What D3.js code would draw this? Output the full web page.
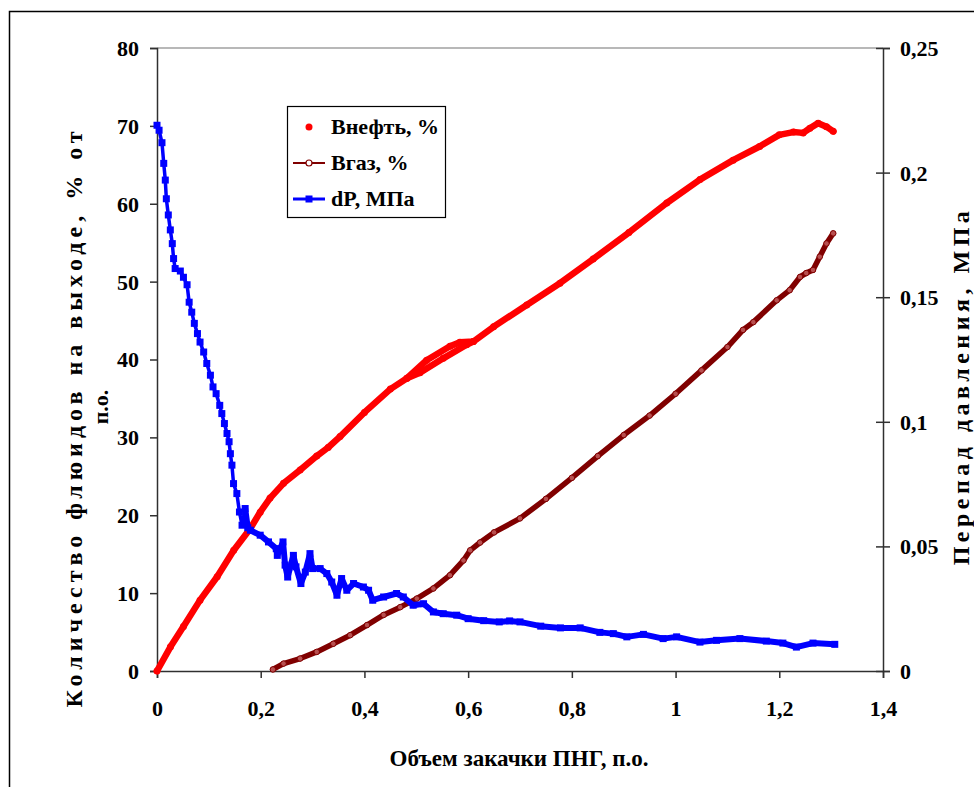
<!DOCTYPE html>
<html>
<head>
<meta charset="utf-8">
<script src="https://cdn.jsdelivr.net/npm/d3@7"></script>
<style>
  body { margin: 0; background: #fff; }
  text { font-family: "Liberation Serif", "Times New Roman", serif; font-weight: bold; fill: #000; }
</style>
</head>
<body>
<svg id="chart" width="974" height="787"></svg>
<script>
// Внефть, % (left axis)
const oilPoints = [
  [0, 0], [0.026, 3.1], [0.051, 5.7], [0.083, 9.1], [0.116, 12.1], [0.148, 15.5],
  [0.18, 18.3], [0.199, 20.4], [0.218, 22.2], [0.244, 24.1], [0.276, 25.8],
  [0.308, 27.6], [0.33, 28.7], [0.353, 30.1], [0.40, 33.2], [0.45, 36.2], [0.482, 37.6],
  [0.52, 39.9], [0.565, 41.7], [0.584, 42.2], [0.61, 42.3], [0.649, 44.2],
  [0.713, 47.0], [0.777, 49.8], [0.841, 52.9], [0.91, 56.3], [0.983, 60.1],
  [1.047, 63.1], [1.111, 65.6], [1.162, 67.35], [1.2, 68.85], [1.227, 69.2],
  [1.246, 69.1], [1.259, 69.7], [1.275, 70.35], [1.291, 69.9], [1.304, 69.3],
];
// the straight lower branch of the oil points between 0,48 and 0,6
const oilChord = [
  [0.482, 37.6], [0.507, 38.3], [0.552, 40.15], [0.597, 41.9], [0.61, 42.3],
];
// Вгаз, % (left axis)
const gasPoints = [
  [0.2235, 0.2], [0.244, 0.95], [0.276, 1.6], [0.308, 2.45], [0.34, 3.5],
  [0.3725, 4.6], [0.405, 5.9], [0.437, 7.2], [0.469, 8.2], [0.501, 9.3],
  [0.533, 10.6], [0.565, 12.3], [0.591, 14.2], [0.604, 15.5], [0.623, 16.5],
  [0.65, 17.8], [0.7, 19.6], [0.75, 22.1], [0.8, 24.8], [0.85, 27.6],
  [0.9, 30.3], [0.95, 32.8], [1.0, 35.6], [1.05, 38.6], [1.1, 41.6],
  [1.13, 43.8], [1.15, 44.8], [1.195, 47.6], [1.22, 48.9], [1.24, 50.6],
  [1.252, 51.1], [1.265, 51.5], [1.278, 53.2], [1.291, 54.9], [1.304, 56.2],
];
// dP, МПа (right axis)
const dpPoints = [
  [0, 0.219], [0.004, 0.217], [0.0096, 0.212], [0.013, 0.2037], [0.016, 0.197],
  [0.018, 0.1895], [0.0218, 0.183], [0.0257, 0.177], [0.0295, 0.1715],
  [0.032, 0.1655], [0.035, 0.1615], [0.045, 0.1605], [0.051, 0.158],
  [0.058, 0.155], [0.062, 0.148], [0.067, 0.144], [0.072, 0.1395],
  [0.078, 0.1354], [0.083, 0.132], [0.09, 0.128], [0.096, 0.1234],
  [0.103, 0.1187], [0.108, 0.114], [0.114, 0.1113], [0.121, 0.1066],
  [0.125, 0.1033], [0.13, 0.0993], [0.135, 0.0953], [0.139, 0.092],
  [0.1415, 0.0872], [0.1445, 0.0826], [0.1476, 0.0752], [0.154, 0.0712],
  [0.159, 0.0638], [0.164, 0.0585], [0.170, 0.0652], [0.175, 0.0575],
  [0.18, 0.0565], [0.199, 0.0545], [0.215, 0.0518], [0.23, 0.0491],
  [0.232, 0.0464], [0.243, 0.0518], [0.247, 0.0425], [0.252, 0.0377],
  [0.263, 0.0464], [0.268, 0.0418], [0.2775, 0.0351], [0.286, 0.0397],
  [0.295, 0.0471], [0.30, 0.0411], [0.3146, 0.0411], [0.3275, 0.0391],
  [0.337, 0.0357], [0.347, 0.0304], [0.356, 0.0371], [0.366, 0.0324],
  [0.379, 0.0351], [0.398, 0.0337], [0.408, 0.0324], [0.416, 0.0284],
  [0.437, 0.0297], [0.462, 0.0311], [0.475, 0.0297], [0.494, 0.0264],
  [0.514, 0.027], [0.533, 0.0237], [0.552, 0.023], [0.578, 0.0224],
  [0.60, 0.021], [0.63, 0.0202], [0.66, 0.0197], [0.68, 0.0201], [0.70, 0.0197],
  [0.74, 0.018], [0.778, 0.0173], [0.816, 0.0173], [0.854, 0.0155],
  [0.88, 0.0150], [0.906, 0.0137], [0.938, 0.0147], [0.976, 0.013],
  [1.002, 0.0137], [1.047, 0.0116], [1.079, 0.0123], [1.124, 0.013],
  [1.175, 0.012], [1.207, 0.0112], [1.233, 0.0096], [1.265, 0.0112], [1.307, 0.0107],
];

const xTicks = [0, 0.2, 0.4, 0.6, 0.8, 1, 1.2, 1.4];
const yTicks = [0, 10, 20, 30, 40, 50, 60, 70, 80];
const y2Ticks = [0, 0.05, 0.1, 0.15, 0.2, 0.25];
const legendItems = ['Внефть, %', 'Вгаз, %', 'dP, МПа'];

const comma = (v) => String(v).replace('.', ',');

const svg = d3.select('#chart');
const plot = { left: 157, right: 883, top: 48, bottom: 671 };

const x = d3.scaleLinear().domain([0, 1.4]).range([plot.left, plot.right]);
const y = d3.scaleLinear().domain([0, 80]).range([plot.bottom, plot.top]);
const y2 = d3.scaleLinear().domain([0, 0.25]).range([plot.bottom, plot.top]);

// outer chart border (right and bottom sides run off the picture)
svg.append('rect')
  .attr('x', 9.5).attr('y', 11.5)
  .attr('width', 980).attr('height', 800)
  .attr('fill', 'none').attr('stroke', '#000').attr('stroke-width', 1.5);

// top edge of the plot area
svg.append('line')
  .attr('x1', plot.left).attr('x2', plot.right)
  .attr('y1', plot.top).attr('y2', plot.top)
  .attr('stroke', '#a0a0a0').attr('stroke-width', 1.5);

const xAxis = svg.append('g')
  .attr('transform', `translate(0,${plot.bottom})`)
  .call(d3.axisBottom(x).tickValues(xTicks).tickFormat(comma).tickSize(7).tickPadding(22));
const yAxis = svg.append('g')
  .attr('transform', `translate(${plot.left},0)`)
  .call(d3.axisLeft(y).tickValues(yTicks).tickSize(7).tickPadding(11));
const y2Axis = svg.append('g')
  .attr('transform', `translate(${plot.right},0)`)
  .call(d3.axisRight(y2).tickValues(y2Ticks).tickFormat(comma).tickSize(7).tickPadding(10));

y2Axis.selectAll('.tick line').attr('x1', -7);
[xAxis, yAxis, y2Axis].forEach((a) => {
  a.select('.domain').attr('stroke', '#303030').attr('stroke-width', 1.5);
  a.selectAll('.tick line').attr('stroke', '#303030').attr('stroke-width', 1.5);
  a.selectAll('.tick text').style('font-size', '22px').attr('fill', '#000')
    .style('font-family', '"Liberation Serif", "Times New Roman", serif').style('font-weight', 'bold');
});
yAxis.selectAll('.tick text').attr('dy', '0.34em');
y2Axis.selectAll('.tick text').attr('dy', '0.34em');
xAxis.selectAll('.tick text').attr('dy', '0.72em');

// spread a title: a little letter spacing, the rest goes into the word gaps
function spreadWords(sel, length, letter) {
  sel.style('letter-spacing', `${letter}px`);
  const natural = sel.node().getComputedTextLength();
  const gaps = sel.text().split(' ').length - 1;
  if (gaps > 0 && natural < length) {
    sel.style('word-spacing', `${(length - natural) / gaps}px`);
  }
}

// axis titles
svg.append('text')
  .attr('x', 519).attr('y', 766)
  .attr('text-anchor', 'middle')
  .style('font-size', '23px')
  .text('Объем закачки ПНГ, п.о.');

const leftTitle = svg.append('text')
  .attr('transform', 'translate(82,417) rotate(-90)')
  .attr('text-anchor', 'middle')
  .style('font-size', '24px')
  .text('Количество флюидов на выходе, % от');
spreadWords(leftTitle, 575, 5);
svg.append('text')
  .attr('transform', 'translate(108,407) rotate(-90)')
  .attr('text-anchor', 'middle')
  .style('font-size', '22px')
  .text('п.о.');

const rightTitle = svg.append('text')
  .attr('transform', 'translate(969,386) rotate(-90)')
  .attr('text-anchor', 'middle')
  .style('font-size', '24px')
  .text('Перепад давления, МПа');
spreadWords(rightTitle, 350, 4.5);

const lineLeft = d3.line().x((d) => x(d[0])).y((d) => y(d[1]));
const lineRight = d3.line().x((d) => x(d[0])).y((d) => y2(d[1]));

// Внефть: dense dot markers, drawn as a thick band with the dots on it
[oilPoints, oilChord].forEach((pts) => {
  svg.append('path')
    .attr('d', lineLeft(pts))
    .attr('fill', 'none').attr('stroke', '#ff0000')
    .attr('stroke-width', 6.5).attr('stroke-linecap', 'round').attr('stroke-linejoin', 'round');
  svg.append('g').selectAll('circle')
    .data(pts)
    .join('circle')
    .attr('cx', (d) => x(d[0])).attr('cy', (d) => y(d[1]))
    .attr('r', 3.5).attr('fill', '#ff0000');
});

// Вгаз: line with dense hollow circle markers
svg.append('path')
  .attr('d', lineLeft(gasPoints))
  .attr('fill', 'none').attr('stroke', '#800000')
  .attr('stroke-width', 5.5).attr('stroke-linecap', 'round').attr('stroke-linejoin', 'round');
svg.append('g').selectAll('circle')
  .data(gasPoints)
  .join('circle')
  .attr('cx', (d) => x(d[0])).attr('cy', (d) => y(d[1]))
  .attr('r', 2.8).attr('fill', '#b85050').attr('stroke', '#800000').attr('stroke-width', 1);

// dP: line with square markers; where the squares crowd together they form a wide band
svg.append('path')
  .attr('d', lineRight(dpPoints))
  .attr('fill', 'none').attr('stroke', '#0000ff')
  .attr('stroke-width', 3.5).attr('stroke-linejoin', 'round');
svg.append('path')
  .attr('d', lineRight(dpPoints.filter((d) => d[0] >= 0.17)))
  .attr('fill', 'none').attr('stroke', '#0000ff')
  .attr('stroke-width', 6).attr('stroke-linejoin', 'round');
svg.append('g').selectAll('rect')
  .data(dpPoints)
  .join('rect')
  .attr('x', (d) => x(d[0]) - 3.5).attr('y', (d) => y2(d[1]) - 3.5)
  .attr('width', 7).attr('height', 7).attr('fill', '#0000ff');

// legend
const legend = svg.append('g');
legend.append('rect')
  .attr('x', 287.5).attr('y', 106.5).attr('width', 158).attr('height', 111)
  .attr('fill', '#fff').attr('stroke', '#000').attr('stroke-width', 1.2);

const rowY = [127, 163, 199];
legend.append('circle').attr('cx', 309).attr('cy', rowY[0]).attr('r', 3.5).attr('fill', '#ff0000');
legend.append('line').attr('x1', 293).attr('x2', 325).attr('y1', rowY[1]).attr('y2', rowY[1])
  .attr('stroke', '#800000').attr('stroke-width', 2);
legend.append('circle').attr('cx', 309).attr('cy', rowY[1]).attr('r', 3)
  .attr('fill', '#fff').attr('stroke', '#800000').attr('stroke-width', 1.2);
legend.append('line').attr('x1', 293).attr('x2', 325).attr('y1', rowY[2]).attr('y2', rowY[2])
  .attr('stroke', '#0000ff').attr('stroke-width', 3);
legend.append('rect').attr('x', 305.5).attr('y', rowY[2] - 3.5).attr('width', 7).attr('height', 7)
  .attr('fill', '#0000ff');

legend.selectAll('text.item')
  .data(legendItems)
  .join('text')
  .attr('class', 'item')
  .attr('x', 331)
  .attr('y', (d, i) => rowY[i] + 7)
  .style('font-size', '22px')
  .text((d) => d);
</script>
</body>
</html>
